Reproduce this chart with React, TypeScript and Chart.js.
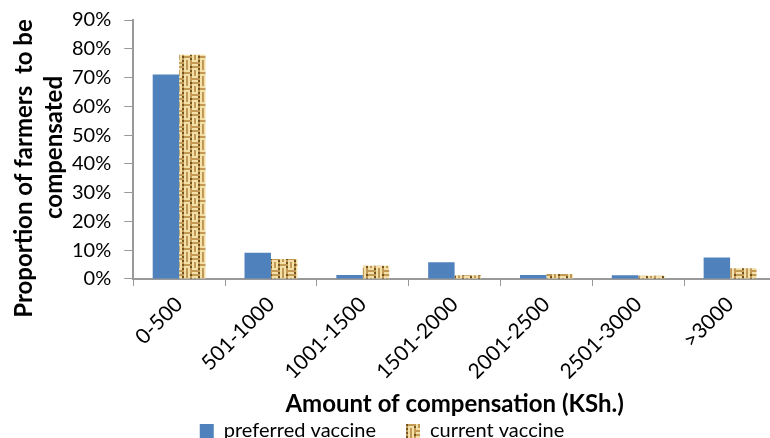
import React, { useEffect, useRef } from "react";
import { Chart, registerables } from "chart.js";

Chart.register(...registerables);

const categories = ["0-500", "501-1000", "1001-1500", "1501-2000", "2001-2500", "2501-3000", ">3000"];
const preferredVaccine = [71.1, 9.1, 1.4, 5.8, 1.4, 1.3, 7.5];
const currentVaccine = [77.9, 6.9, 4.6, 1.3, 1.7, 1.1, 3.7];
const seriesNames = ["preferred vaccine", "current vaccine"];
const yTicks = [0, 10, 20, 30, 40, 50, 60, 70, 80, 90];
const yTitleLines = ["Proportion of farmers  to be", "compensated"];
const xTitle = "Amount of compensation (KSh.)";

const FONT = "Lato";

function makeWeavePattern(): CanvasPattern | string {
  const map = [
    "LLLDLMLM",
    "MMMMLMLD",
    "LLLDLMLM",
    "LMLMLLLD",
    "LMLDMMMM",
    "LMLMLLLD",
    "LLLDLMLM",
    "MMMMLMLM",
  ];
  const cell = 2;
  const tile = document.createElement("canvas");
  tile.width = 8 * cell;
  tile.height = 8 * cell;
  const c = tile.getContext("2d");
  if (!c) return "#c9a564";
  const col: Record<string, string> = { L: "#f2e0a8", M: "#c29a55", D: "#74511d" };
  for (let y = 0; y < 8; y++) {
    for (let x = 0; x < 8; x++) {
      c.fillStyle = col[map[y][x]];
      c.fillRect(x * cell, y * cell, cell, cell);
    }
  }
  const main = document.createElement("canvas").getContext("2d");
  const p = main ? main.createPattern(tile, "repeat") : null;
  return p || "#c9a564";
}

const yTitlePlugin = {
  id: "yTitleLines",
  afterDraw(chart: any) {
    const { ctx, chartArea } = chart;
    const mid = (chartArea.top + chartArea.bottom) / 2;
    const xs = [24, 54];
    const shifts = [19, -2];
    ctx.save();
    ctx.font = `bold 24px ${FONT}`;
    ctx.fillStyle = "#000";
    ctx.textAlign = "center";
    ctx.textBaseline = "middle";
    yTitleLines.forEach((line, i) => {
      ctx.save();
      ctx.translate(xs[i], mid + shifts[i]);
      ctx.rotate(-Math.PI / 2);
      ctx.fillText(line, 0, 0);
      ctx.restore();
    });
    ctx.restore();
  },
};

export default function App() {
  const ref = useRef<HTMLCanvasElement>(null);

  useEffect(() => {
    if (!ref.current) return;
    const pattern = makeWeavePattern();
    const chart = new Chart(ref.current, {
      type: "bar",
      data: {
        labels: categories,
        datasets: [
          {
            label: seriesNames[0],
            data: preferredVaccine,
            backgroundColor: "#4f81bd",
            borderWidth: 0,
            categoryPercentage: 0.576,
            barPercentage: 1,
          },
          {
            label: seriesNames[1],
            data: currentVaccine,
            backgroundColor: pattern as any,
            borderWidth: 0,
            categoryPercentage: 0.576,
            barPercentage: 1,
          },
        ],
      },
      options: {
        responsive: false,
        animation: false,
        devicePixelRatio: 1,
        layout: { padding: { left: -12, right: 24, top: 20, bottom: 0 } },
        plugins: {
          tooltip: { enabled: false },
          legend: {
            position: "bottom",
            labels: {
              font: { family: FONT, size: 20 },
              color: "#000",
              boxWidth: 14,
              boxHeight: 14,
              padding: 30,
            },
          },
        },
        scales: {
          x: {
            grid: {
              display: true,
              drawOnChartArea: false,
              drawTicks: true,
              tickLength: 7,
              color: "#999",
              offset: true,
            },
            border: { color: "#999", width: 2 },
            ticks: {
              font: { family: FONT, size: 21 },
              color: "#000",
              minRotation: 45,
              maxRotation: 45,
              autoSkip: false,
              padding: 6,
            },
            title: {
              display: true,
              text: xTitle,
              font: { family: FONT, size: 24, weight: "bold" },
              color: "#000",
              padding: { top: 0, bottom: -28 },
            },
          },
          y: {
            min: 0,
            max: 90,
            afterBuildTicks: (axis: any) => {
              axis.ticks = yTicks.map((v) => ({ value: v }));
            },
            afterFit: (axis: any) => {
              axis.width += 71;
              axis.paddingTop = 0;
            },
            grid: {
              display: true,
              drawOnChartArea: false,
              drawTicks: true,
              tickLength: 9,
              color: "#999",
            },
            border: { color: "#999", width: 2 },
            ticks: {
              font: { family: FONT, size: 20 },
              color: "#000",
              padding: 13,
              autoSkip: false,
              callback: (v: any) => `${v}%`,
            },
          },
        },
      },
      plugins: [yTitlePlugin],
    });
    return () => chart.destroy();
  }, []);

  return (
    <div style={{ position: "absolute", left: 0, top: 0, width: 770, height: 438, overflow: "hidden", background: "#fff" }}>
      <canvas ref={ref} width={800} height={451} style={{ display: "block" }} />
    </div>
  );
}
